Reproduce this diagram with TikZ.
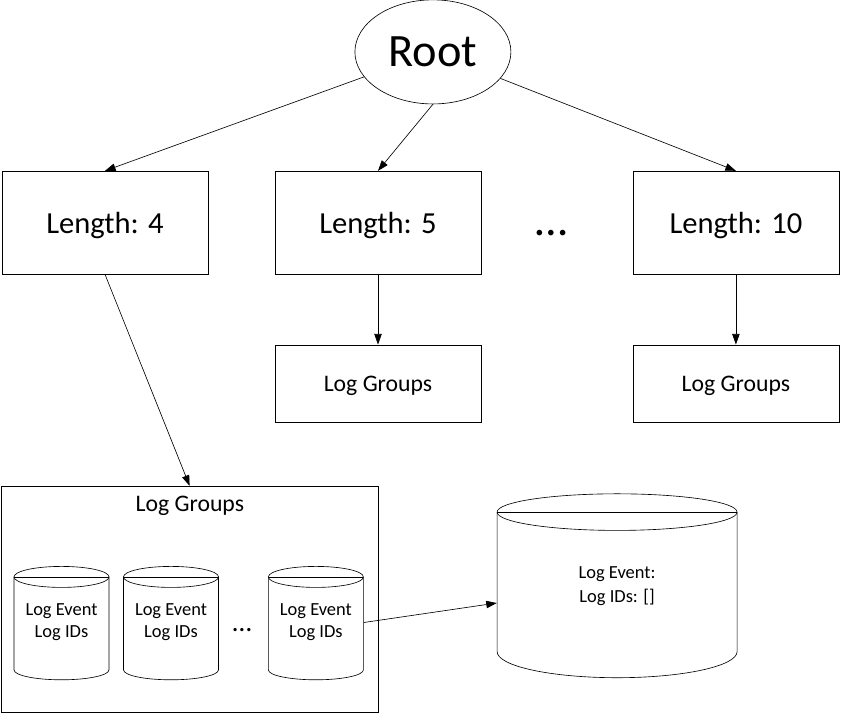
\documentclass[tikz,border=0pt]{standalone}
\usepackage{fontspec}
\setmainfont{Carlito}
\usetikzlibrary{shapes.geometric,arrows.meta}

\begin{document}
\begin{tikzpicture}[
    line width=0.6pt,
    >={Triangle[length=10pt,width=7pt]},
    block/.style={
        draw,
        minimum width=6.87cm,
        inner sep=0pt,
        text depth=0pt
    },
    dbtext/.style={
        align=center,
        inner sep=0pt,
        font=\fontsize{17.5}{21}\selectfont
    }
]
\useasboundingbox (0,0) rectangle (28.033,-23.767);

\node[draw, ellipse, minimum width=5.2cm, minimum height=3.47cm, inner sep=0pt,
      font=\fontsize{44}{44}\selectfont] (root) at (14.43,-1.73) {Root};

% first level
\node[block, minimum height=3.43cm, font=\fontsize{29}{29}\selectfont] (len4) at (3.5,-7.42) {Length: 4};
\node[block, minimum height=3.43cm, font=\fontsize{29}{29}\selectfont] (len5) at (12.6,-7.42) {Length: 5};
\node[block, minimum height=3.43cm, font=\fontsize{29}{29}\selectfont] (len10) at (24.53,-7.42) {Length: 10};
\node[inner sep=0pt, font=\fontsize{44}{44}\selectfont] (dotsA) at (18.37,-7.77) {…};

% log groups
\node[block, minimum height=2.57cm, font=\fontsize{22.5}{22.5}\selectfont] (grp5) at (12.6,-12.78) {Log Groups};
\node[block, minimum height=2.57cm, font=\fontsize{22.5}{22.5}\selectfont] (grp10) at (24.53,-12.78) {Log Groups};

\node[draw, minimum width=12.57cm, minimum height=7.53cm] (groups) at (6.32,-19.97) {};
\node[font=\fontsize{22.5}{22.5}\selectfont] (groupstitle) at (6.33,-16.87) {Log Groups};

% small cylinders
\foreach \x/\n in {2.05/cylA, 5.70/cylB, 10.53/cylC} {
    \draw (\x,-19.23) ellipse (1.583 and 0.35);
    \draw (\x-1.583,-19.23) -- (\x+1.583,-19.23);
    \draw (\x-1.583,-19.23) -- (\x-1.583,-22.33) arc (180:360:1.583 and 0.33) -- (\x+1.583,-19.23);
    \node[dbtext, minimum width=3.17cm] (\n) at (\x,-20.75) {Log Event\\Log IDs};
}
\node[inner sep=0pt, font=\fontsize{26}{26}\selectfont] (dotsB) at (8.07,-21.0) {…};

% big cylinder
\draw (20.57,-17.07) ellipse (4.0 and 0.61);
\draw (16.57,-17.07) -- (24.57,-17.07);
\draw (16.57,-17.07) -- (16.57,-21.72) arc (180:360:4.0 and 0.87) -- (24.57,-17.07);
\node[dbtext, minimum width=8cm, font=\fontsize{17.5}{23}\selectfont] (bigcyl) at (20.57,-19.53) {Log Event:\\Log IDs: []};

% connectors
\draw[->] (root) -- (len4.north);
\draw[->] (root.south) -- (len5.north);
\draw[->] (root) -- (len10.north);
\draw[->] (len5.south) -- (grp5.north);
\draw[->] (len10.south) -- (grp10.north);
\draw[->] (len4.south) -- (groups.north);
\draw[->] (cylC.east) -- ([yshift=-0.57cm]bigcyl.west);

\end{tikzpicture}
\end{document}
